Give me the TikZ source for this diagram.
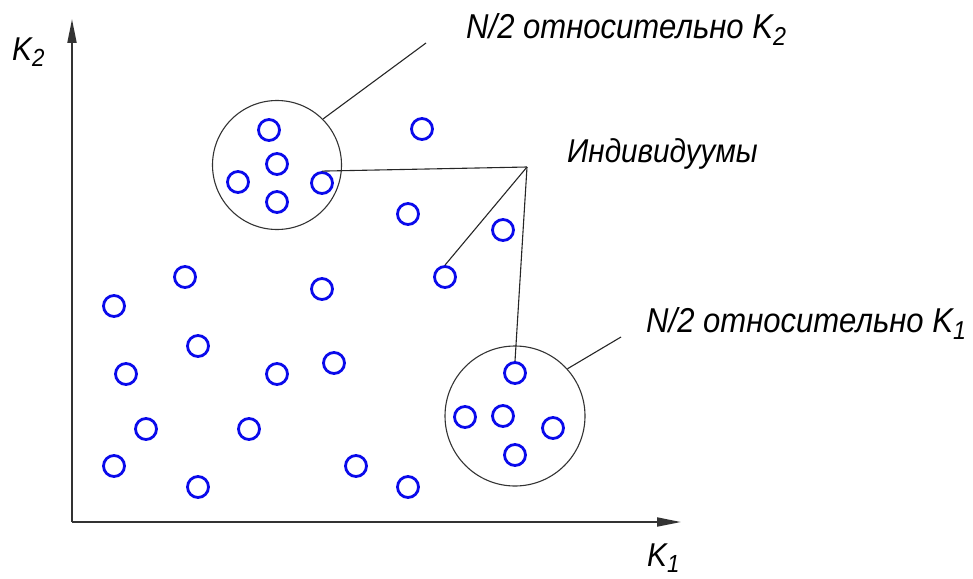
\documentclass[tikz,border=0pt]{standalone}
\usepackage{graphicx}
\usepackage{fontspec}
\setmainfont{Liberation Sans}[FakeStretch=0.9]
\usepackage{tikz}
\usetikzlibrary{arrows.meta}
\definecolor{indblue}{RGB}{10,10,235}
\newcommand{\lowidx}[1]{\raisebox{-0.4ex}{\scalebox{0.75}{#1}}}

\begin{document}
\begin{tikzpicture}[x=1pt,y=-1pt,
  indiv/.style={circle,draw=indblue,line width=2.8pt,minimum size=21pt,inner sep=0pt},
  grp/.style={circle,draw=black!80,line width=1.1pt,inner sep=0pt},
  lead/.style={draw=black!85,line width=1.1pt},
  axis/.style={line width=1.8pt,draw=black!80,-{Triangle[length=24pt,width=9pt]}},
  lbl/.style={anchor=base west,inner sep=0pt,font=\fontsize{33}{33}\selectfont\itshape},
  big/.style={lbl,font=\fontsize{34.5}{34.5}\selectfont\itshape}
]
\useasboundingbox (0,0) rectangle (973,578);
% axes
\coordinate (o) at (72,522);
\coordinate (ytip) at (72,19);
\coordinate (xtip) at (681,522);
\draw[axis] (o) -- (ytip);
\draw[axis] (o) -- (xtip);
\node[lbl] (k2) at (12,60) {K\lowidx{2}};
\node[lbl] (k1) at (647,566) {K\lowidx{1}};
% groups
\node[grp,minimum size=129pt] (g2) at (277,165) {};
\node[grp,minimum size=140pt] (g1) at (515,416) {};
% individuals
\foreach \n/\x/\y in {1/269/130, 2/277/164, 3/238/182, 4/322/183, 5/277/202,
  6/422/129, 7/408/214, 8/503/230, 9/445/277, 10/185/277, 11/322/289,
  12/114/306, 13/198/346, 14/126/374, 15/277/374, 16/334/363, 17/146/429,
  18/249/429, 19/114/466, 20/198/487, 21/356/466, 22/408/487,
  23/515/373, 24/465/417, 25/503/416, 26/553/428, 27/515/455}
  \node[indiv] (i\n) at (\x,\y) {};
% labels
\node[big] (t2) at (466,38) {N/2 относительно K\lowidx{2}};
\node[lbl] (tind) at (567,162) {Индивидуумы};
\node[big] (t1) at (646,332) {N/2 относительно K\lowidx{1}};
% leaders
\coordinate (hub) at (527,167);
\coordinate (e2) at (426,43);
\coordinate (e1) at (621,337);
\draw[lead] (g2.45) -- (e2);
\draw[lead] (g1.42) -- (e1);
\draw[lead] (i4.north) -- (hub);
\draw[lead] (i9.north) -- (hub);
\draw[lead] (i23.north) -- (hub);
\end{tikzpicture}
\end{document}
